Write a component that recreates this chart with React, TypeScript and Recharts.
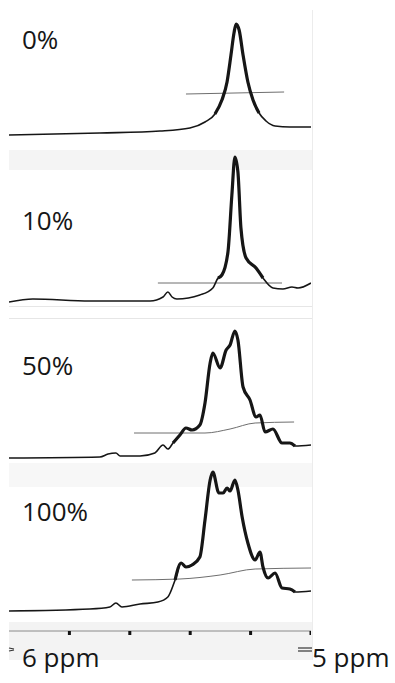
import { LineChart, Line, XAxis, YAxis } from "recharts"

// chemical shift (ppm) and trace height, one pair per panel
const ppm0 = [6.0, 5.699, 5.5, 5.401, 5.351, 5.318, 5.295, 5.278, 5.265, 5.255, 5.248, 5.238, 5.225, 5.209, 5.192, 5.172, 5.149, 5.119, 5.07, 5.0]
const int0 = [10, 12, 14, 17, 23, 31, 45, 63, 90, 112, 121, 115, 90, 63, 45, 32, 24, 19, 18, 18]
const integPpm0 = [5.414, 5.089]
const integ0 = [51, 53]

const ppm10 = [6.0, 5.921, 5.732, 5.533, 5.49, 5.474, 5.46, 5.444, 5.368, 5.325, 5.308, 5.295, 5.275, 5.262, 5.252, 5.242, 5.232, 5.215, 5.182, 5.159, 5.126, 5.093, 5.063, 5.043, 5.0]
const int10 = [3, 6, 4, 4, 8, 13, 8, 6, 10, 17, 27, 30, 53, 110, 148, 133, 77, 47, 37, 27, 17, 16, 18, 17, 22]
const integPpm10 = [5.507, 5.096]
const integ10 = [22, 22]

const ppm50 = [6.0, 5.699, 5.672, 5.646, 5.632, 5.566, 5.517, 5.49, 5.474, 5.457, 5.434, 5.414, 5.394, 5.368, 5.351, 5.334, 5.325, 5.301, 5.281, 5.268, 5.252, 5.242, 5.225, 5.202, 5.182, 5.169, 5.152, 5.126, 5.096, 5.07, 5.053, 5.0]
const int50 = [4, 5, 8, 9, 6, 6, 9, 17, 13, 19, 27, 34, 32, 37, 59, 99, 109, 94, 112, 117, 131, 122, 75, 62, 45, 47, 30, 33, 19, 19, 16, 17]
const integPpm50 = [5.586, 5.351, 5.268, 5.185, 5.056]
const integ50 = [29, 29, 33, 39, 40]

const ppm100 = [6.0, 5.732, 5.666, 5.646, 5.626, 5.566, 5.507, 5.474, 5.45, 5.43, 5.414, 5.394, 5.368, 5.351, 5.334, 5.325, 5.305, 5.291, 5.278, 5.268, 5.252, 5.242, 5.228, 5.209, 5.185, 5.169, 5.159, 5.142, 5.119, 5.096, 5.07, 5.053, 5.0]
const int100 = [4, 6, 8, 12, 8, 11, 13, 18, 35, 52, 48, 50, 58, 95, 135, 143, 122, 122, 127, 124, 135, 125, 98, 72, 55, 63, 48, 37, 42, 27, 26, 23, 24]
const integPpm100 = [5.593, 5.434, 5.301, 5.185, 5.0]
const integ100 = [35, 36, 40, 46, 47]

const axisTicks = [5.8, 5.6, 5.4, 5.2, 5.0]

const FONT = "'Open Sans', sans-serif"
const INK = "#161616"

const toRows = (xs: number[], ys: number[]) => xs.map((ppm, i) => ({ ppm, v: ys[i] }))

interface PanelProps {
  label: string
  labelY: number
  top: number
  bottom: number
  lo: number
  ppm: number[]
  values: number[]
  integPpm: number[]
  integ: number[]
  thick: [number, number]
  axis?: boolean
}

const panels: PanelProps[] = [
  { label: "0%", labelY: 49, top: 10, bottom: 145, lo: 0, ppm: ppm0, values: int0, integPpm: integPpm0, integ: integ0, thick: [5.15, 5.33] },
  { label: "10%", labelY: 230, top: 150, bottom: 305, lo: 0, ppm: ppm10, values: int10, integPpm: integPpm10, integ: integ10, thick: [5.14, 5.31] },
  { label: "50%", labelY: 375, top: 320, bottom: 462, lo: 0, ppm: ppm50, values: int50, integPpm: integPpm50, integ: integ50, thick: [5.05, 5.46] },
  { label: "100%", labelY: 521, top: 465, bottom: 631, lo: -16, ppm: ppm100, values: int100, integPpm: integPpm100, integ: integ100, thick: [5.05, 5.46], axis: true },
]

function Panel(p: PanelProps) {
  const rows = toRows(p.ppm, p.values)
  const peak = rows.filter((r) => r.ppm >= p.thick[0] && r.ppm <= p.thick[1])
  const integral = toRows(p.integPpm, p.integ)
  const plotH = p.bottom - p.top
  const axisH = p.axis ? 10 : 0
  return (
    <div style={{ position: "absolute", left: 9, top: p.top }}>
      <LineChart width={302} height={plotH + axisH} margin={{ top: 0, right: 0, bottom: 0, left: 0 }}>
        <XAxis
          type="number"
          dataKey="ppm"
          domain={[5, 6]}
          reversed
          hide={!p.axis}
          ticks={axisTicks}
          tickFormatter={() => ""}
          tickSize={4}
          height={axisH}
          axisLine={{ stroke: "#8a8a8a", strokeWidth: 1 }}
          tickLine={{ stroke: "#111", strokeWidth: 3 }}
        />
        <YAxis type="number" domain={[p.lo, p.lo + plotH]} hide />
        <Line data={integral} dataKey="v" type="monotone" stroke="#6e6e6e" strokeWidth={1} dot={false} isAnimationActive={false} />
        <Line data={rows} dataKey="v" type="monotone" stroke={INK} strokeWidth={1.6} dot={false} isAnimationActive={false} />
        <Line data={peak} dataKey="v" type="monotone" stroke={INK} strokeWidth={3.2} dot={false} isAnimationActive={false} />
      </LineChart>
    </div>
  )
}

export default function App() {
  return (
    <div style={{ position: "absolute", left: 0, top: 0, width: 395, height: 683, background: "#fff", overflow: "hidden" }}>
      {/* faint scanner bands between the traces */}
      <div style={{ position: "absolute", left: 9, top: 150, width: 303, height: 20, background: "#f4f4f4" }} />
      <div style={{ position: "absolute", left: 9, top: 306, width: 303, height: 1, background: "#e6e6e6" }} />
      <div style={{ position: "absolute", left: 9, top: 318, width: 303, height: 1, background: "#e6e6e6" }} />
      <div style={{ position: "absolute", left: 9, top: 463, width: 303, height: 24, background: "#f7f7f7" }} />
      <div style={{ position: "absolute", left: 9, top: 622, width: 303, height: 38, background: "#f3f3f3" }} />
      <div style={{ position: "absolute", left: 312, top: 10, width: 1, height: 650, background: "#ececec" }} />
      {panels.map((p) => (
        <Panel key={p.label} {...p} />
      ))}
      <svg width={395} height={683} style={{ position: "absolute", left: 0, top: 0, pointerEvents: "none" }}>
        <g fontFamily={FONT} fontSize={26} fill={INK}>
          {panels.map((p) => (
            <text key={p.label} x={22} y={p.labelY}>
              {p.label}
            </text>
          ))}
          <text x={22} y={667}>6 ppm</text>
          <text x={312} y={667}>5 ppm</text>
        </g>
        <g stroke="#333" strokeWidth={1.2}>
          <line x1={9} y1={648} x2={14} y2={649} />
          <line x1={9} y1={651} x2={14} y2={650} />
          <line x1={298} y1={648} x2={312} y2={648} />
          <line x1={298} y1={651} x2={312} y2={651} />
        </g>
      </svg>
    </div>
  )
}
